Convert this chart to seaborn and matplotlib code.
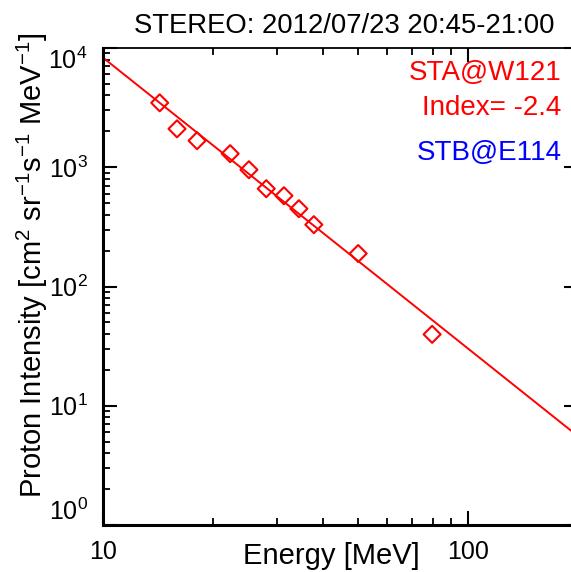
import numpy as np
import pandas as pd
import matplotlib
matplotlib.use("Agg")
import matplotlib.pyplot as plt
import seaborn as sns
from matplotlib.ticker import LogLocator, FuncFormatter, NullFormatter

# Proton spectrum measured by STEREO-A
energy_mev = [14.3, 15.95, 18.1, 22.3, 25.1, 28.0, 31.3, 34.4, 37.8, 50.0, 79.7]
intensity = [3470, 2100, 1670, 1300, 953, 661, 577, 449, 330, 189, 39.7]

# Power-law fit  I = amp * (E / 10 MeV) ** index
fit_amp = 8300.0
fit_index = -2.44

title = "STEREO: 2012/07/23 20:45-21:00"
sta_label = "STA@W121"
stb_label = "STB@E114"
x_ticks = [10, 100]
y_ticks = [1, 10, 100, 1000, 10000]

sns.set_theme(style="ticks")
plt.rcParams["font.family"] = ["Liberation Sans", "DejaVu Sans"]
plt.rcParams["mathtext.default"] = "regular"
plt.rcParams["mathtext.fontset"] = "custom"
plt.rcParams["mathtext.rm"] = "Liberation Sans"
for key in ["text.color", "axes.labelcolor", "xtick.color", "ytick.color",
            "axes.edgecolor"]:
    plt.rcParams[key] = "black"

fig = plt.figure(figsize=(5.71, 5.72), dpi=100)
ax = fig.add_axes([103 / 571, 47 / 572, 475 / 571, 477 / 572])

df = pd.DataFrame({"energy": energy_mev, "intensity": intensity})
e_fit = np.logspace(1, np.log10(200), 200)
fit_df = pd.DataFrame({"energy": e_fit,
                       "intensity": fit_amp * (e_fit / 10.0) ** fit_index})

sns.lineplot(data=fit_df, x="energy", y="intensity", color="red", lw=1.4, ax=ax)
sns.scatterplot(data=df, x="energy", y="intensity", marker="D", s=75,
                facecolor="none", edgecolor="red", linewidth=1.5, ax=ax, zorder=3)

ax.set_xscale("log")
ax.set_yscale("log")
ax.set_xlim(10, 200)
ax.set_ylim(1, 1e4)

for side in ["left", "bottom"]:
    ax.spines[side].set_linewidth(2.2)
for side in ["top", "right"]:
    ax.spines[side].set_linewidth(1.3)

ax.set_xticks(x_ticks)
ax.set_yticks(y_ticks)
ax.xaxis.set_minor_locator(LogLocator(base=10, subs=np.arange(2, 10)))
ax.yaxis.set_minor_locator(LogLocator(base=10, subs=np.arange(2, 10)))
ax.xaxis.set_major_formatter(FuncFormatter(lambda v, p: f"{v:g}"))
ax.xaxis.set_minor_formatter(NullFormatter())
ax.yaxis.set_major_formatter(
    FuncFormatter(lambda v, p: f"$10^{{{int(round(np.log10(v)))}}}$"))
ax.yaxis.set_minor_formatter(NullFormatter())
ax.tick_params(which="both", direction="in", top=True, right=True)
ax.tick_params(which="major", length=10, width=1.5, labelsize=18)
ax.tick_params(axis="y", which="major", pad=11)
ax.tick_params(axis="x", which="major", pad=11)
ax.tick_params(which="minor", length=5, width=1.3)

# end labels sit inside the axis range
ylabels = ax.get_yticklabels()
ylabels[0].set_va("bottom")
ylabels[-1].set_va("top")

ax.set_title(title, fontsize=19.8, pad=11, x=0.507)
ax.set_xlabel("Energy [MeV]", fontsize=21)
ax.xaxis.set_label_coords(0.48, -0.036)
ax.set_ylabel("Proton Intensity [cm$^2$ sr$^{-1}$s$^{-1}$ MeV$^{-1}$]", fontsize=21)
ax.yaxis.set_label_coords(-0.112, 0.545)

ax.text(0.966, 0.948, sta_label, color="red", fontsize=20, ha="right", va="center",
        transform=ax.transAxes)
ax.text(0.966, 0.874, f"Index= {fit_index:.1f}", color="red", fontsize=20,
        ha="right", va="center", transform=ax.transAxes)
ax.text(0.966, 0.780, stb_label, color="blue", fontsize=20, ha="right", va="center",
        transform=ax.transAxes)

fig.savefig("out.png", dpi=100)
